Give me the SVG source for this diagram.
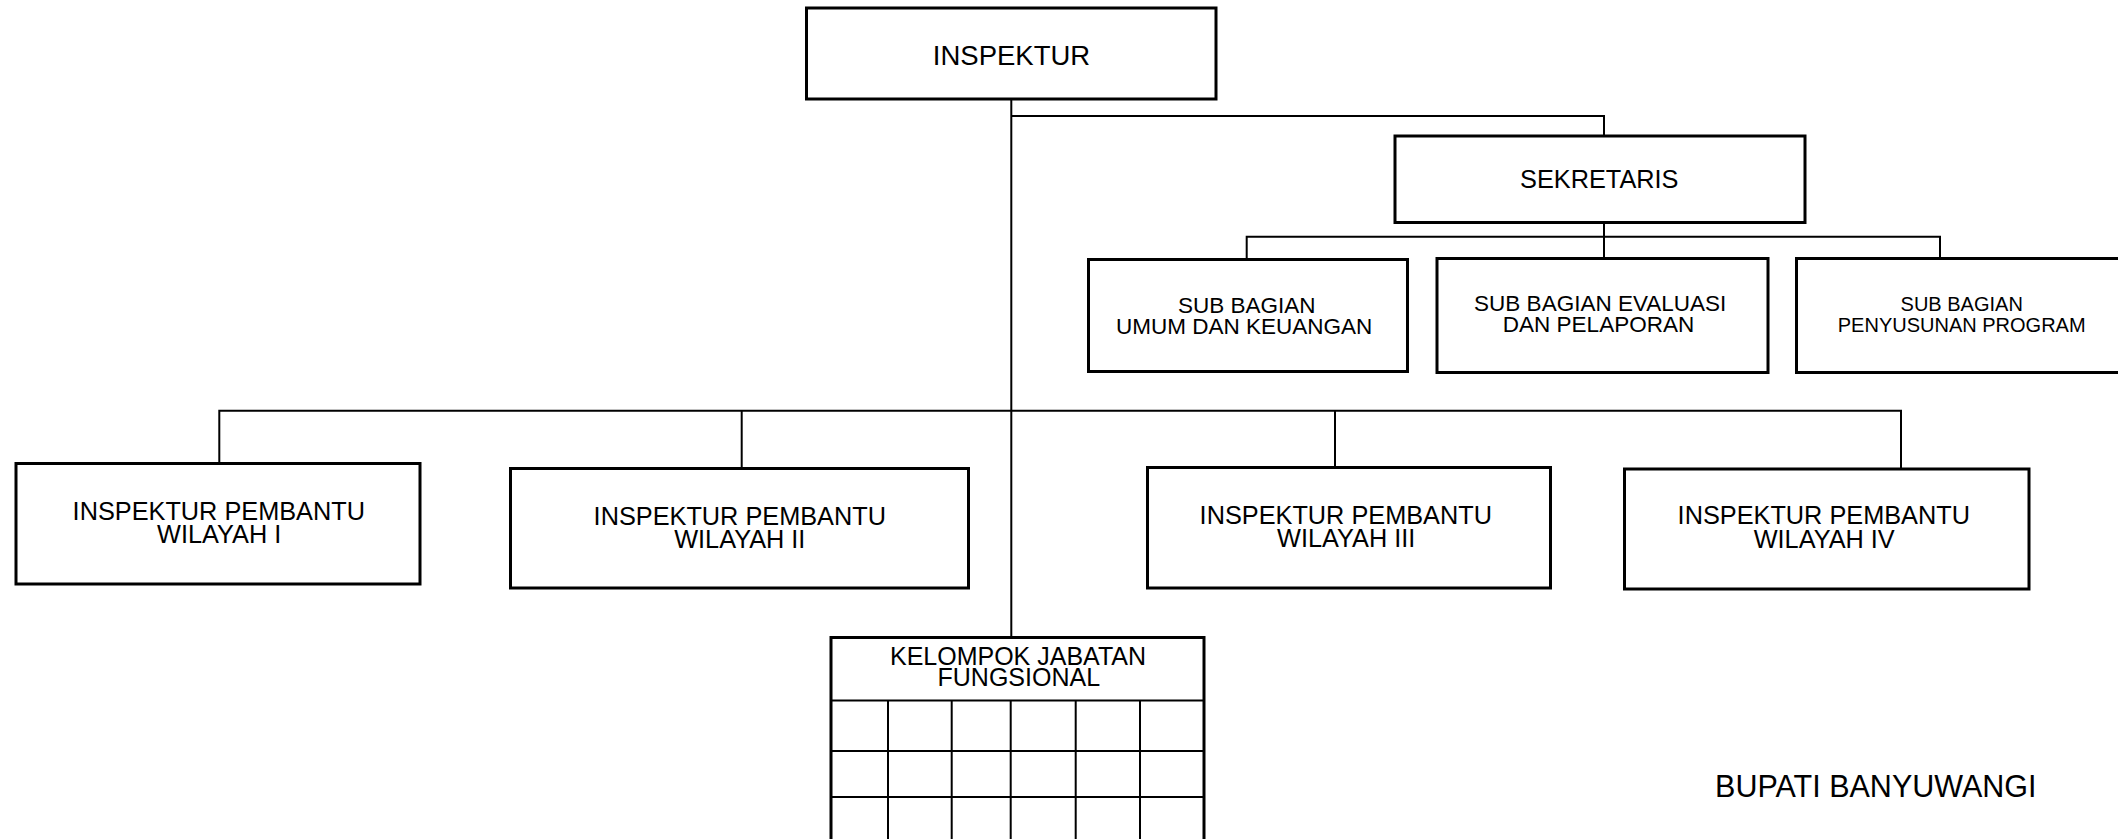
<svg xmlns="http://www.w3.org/2000/svg" width="2118" height="839" viewBox="0 0 2118 839">
<style>
.box{fill:#fff;stroke:#000;stroke-width:3}
.conn{fill:none;stroke:#000;stroke-width:2}
.grid{fill:none;stroke:#000;stroke-width:2}
text{font-family:"Liberation Sans",Arial,sans-serif;fill:#000;text-anchor:middle}
.t26{font-size:27.5px}
.t25{font-size:25.3px}
.t22{font-size:22.5px}
.t20{font-size:20px}
.tk{font-size:25px}
.tb{font-size:30.5px}
</style>
<rect width="2118" height="839" fill="#fff"/>
<g id="connectors">
<path class="conn" d="M1011.3 99 V637.5"/>
<path class="conn" d="M1011.3 116 H1604 V135"/>
<path class="conn" d="M1604 222.7 V258.5"/>
<path class="conn" d="M1246.7 259.5 V236.7 H1940 V258.5"/>
<path class="conn" d="M219.3 463.5 V410.7 H1901 V469"/>
<path class="conn" d="M741.7 410.7 V468.5"/>
<path class="conn" d="M1335 410.7 V467.5"/>
</g>
<g id="inspektur">
<rect class="box" x="806.5" y="8" width="409.5" height="91"/>
<text class="t26" x="1011.5" y="65.3">INSPEKTUR</text>
</g>
<g id="sekretaris">
<rect class="box" x="1395" y="136" width="410" height="86.5"/>
<text class="t25" x="1599.3" y="187.7">SEKRETARIS</text>
</g>
<g id="subbag-umum">
<rect class="box" x="1088.5" y="259.5" width="319" height="112"/>
<text class="t22" x="1246.7" y="313.3">SUB BAGIAN</text>
<text class="t22" x="1244.2" y="333.8">UMUM DAN KEUANGAN</text>
</g>
<g id="subbag-evaluasi">
<rect class="box" x="1437" y="258.5" width="331" height="114"/>
<text class="t22" x="1600.2" y="310.7">SUB BAGIAN EVALUASI</text>
<text class="t22" x="1598.5" y="332.2">DAN PELAPORAN</text>
</g>
<g id="subbag-program">
<rect class="box" x="1796.5" y="258.5" width="340" height="114"/>
<text class="t20" x="1961.7" y="311">SUB BAGIAN</text>
<text class="t20" x="1961.7" y="331.5">PENYUSUNAN PROGRAM</text>
</g>
<g id="wilayah-1">
<rect class="box" x="16" y="463.5" width="404" height="120.5"/>
<text class="t25" x="218.8" y="519.5">INSPEKTUR PEMBANTU</text>
<text class="t25" x="219.2" y="542.5">WILAYAH I</text>
</g>
<g id="wilayah-2">
<rect class="box" x="510.5" y="468.5" width="458" height="119.5"/>
<text class="t25" x="739.8" y="524.5">INSPEKTUR PEMBANTU</text>
<text class="t25" x="739.8" y="547.5">WILAYAH II</text>
</g>
<g id="wilayah-3">
<rect class="box" x="1147.5" y="467.5" width="403" height="120.5"/>
<text class="t25" x="1345.8" y="523.5">INSPEKTUR PEMBANTU</text>
<text class="t25" x="1346.2" y="546.5">WILAYAH III</text>
</g>
<g id="wilayah-4">
<rect class="box" x="1624.5" y="469" width="404.5" height="120"/>
<text class="t25" x="1823.8" y="524">INSPEKTUR PEMBANTU</text>
<text class="t25" x="1824.2" y="547.5">WILAYAH IV</text>
</g>
<g id="kelompok-fungsional">
<rect class="box" x="831" y="637.5" width="373" height="230"/>
<path class="grid" d="M831 700.5 H1204 M831 751 H1204 M831 797 H1204 M888 700.5 V839 M951.7 700.5 V839 M1010.7 700.5 V839 M1075.7 700.5 V839 M1140 700.5 V839"/>
<text class="tk" x="1018" y="665">KELOMPOK JABATAN</text>
<text class="tk" x="1018.8" y="686">FUNGSIONAL</text>
</g>
<g id="bupati">
<text class="tb" x="1875.8" y="797.3">BUPATI BANYUWANGI</text>
</g>
</svg>
